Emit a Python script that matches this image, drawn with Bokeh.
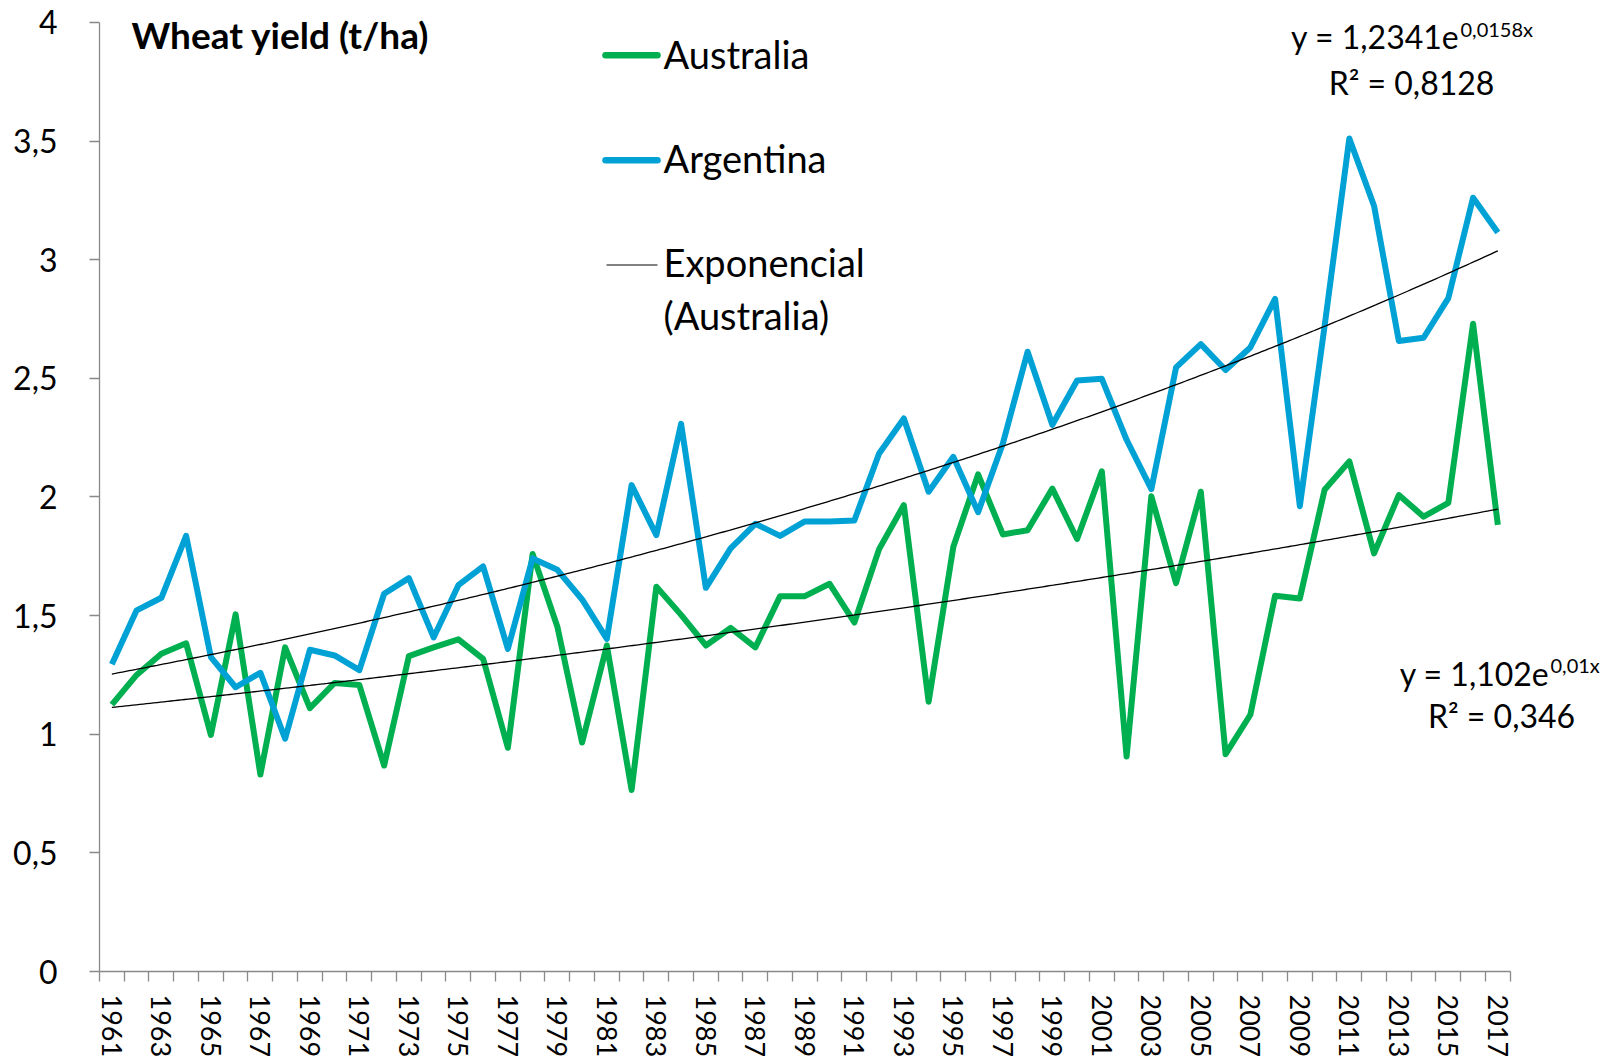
import numpy as np
from bokeh.plotting import figure
from bokeh.models import Range1d, FixedTicker, CustomJSTickFormatter, Label, ColumnDataSource
from bokeh.embed import file_html
from bokeh.resources import INLINE

# ---------------- data ----------------
years = list(range(1961, 2018))
australia = [1.125, 1.25, 1.339, 1.383, 0.997, 1.505, 0.83, 1.366, 1.11, 1.216,
             1.207, 0.868, 1.329, 1.366, 1.40, 1.318, 0.943, 1.76, 1.453, 0.965,
             1.374, 0.765, 1.622, 1.503, 1.374, 1.448, 1.366, 1.582, 1.582, 1.634,
             1.471, 1.78, 1.966, 1.137, 1.79, 2.095, 1.842, 1.86, 2.035, 1.823,
             2.108, 0.906, 2.003, 1.637, 2.022, 0.916, 1.082, 1.584, 1.572, 2.03,
             2.15, 1.762, 2.008, 1.917, 1.975, 2.73, 1.882]
argentina = [1.295, 1.522, 1.575, 1.836, 1.325, 1.198, 1.259, 0.981, 1.356, 1.332,
             1.270, 1.592, 1.658, 1.408, 1.628, 1.707, 1.360, 1.741, 1.693, 1.568,
             1.402, 2.050, 1.839, 2.308, 1.617, 1.783, 1.887, 1.836, 1.897, 1.897,
             1.901, 2.183, 2.331, 2.022, 2.169, 1.936, 2.225, 2.612, 2.304, 2.491,
             2.498, 2.241, 2.033, 2.546, 2.644, 2.535, 2.630, 2.835, 1.961, 2.72,
             3.511, 3.226, 2.657, 2.671, 2.838, 3.261, 3.115]
tick_years = years[::2]
y_ticks = [0, 0.5, 1, 1.5, 2, 2.5, 3, 3.5, 4]
# Excel exponential trend lines: y = a * exp(b * x), x = 1..57
trend_aus = (1.102, 0.01)
trend_arg = (1.2341, 0.0158)
eq_aus = ("y = 1,102e", "0,01x", "R² = 0,346")
eq_arg = ("y = 1,2341e", "0,0158x", "R² = 0,8128")
title = "Wheat yield (t/ha)"
legend_labels = ["Australia", "Argentina", "Exponencial", "(Australia)"]

GREEN = "#00B050"
BLUE = "#00A2D6"
AXIS = "#898989"
FONT = "Lato"

# ---------------- layout (canvas pixels) ----------------
W, H = 1604, 1060
FL = 99            # frame left  (x = 1960.5)
AX_R = 1509.7      # right end of the category axis (x = 2017.5)
Y0 = 975           # y = 0
Y4 = 22            # y = 4
CW = (AX_R - FL) / 57.0
PX_PER_UNIT = (Y0 - Y4) / 4.0
x_end = 1960.5 + (W - FL) / CW
y_end = Y0 / PX_PER_UNIT


def dx(cx):
    return 1960.5 + (cx - FL) / CW


def dy(cy):
    return (Y0 - cy) / PX_PER_UNIT


def mid(baseline, size):
    # Lato: box middle sits 0.387 em above the alphabetic baseline
    return dy(baseline - 0.387 * size)


p = figure(width=W, height=H, output_backend="svg", toolbar_location=None,
           x_range=Range1d(1960.5, x_end), y_range=Range1d(0, y_end),
           min_border_left=FL, min_border_right=0, min_border_top=0,
           min_border_bottom=H - Y0, background_fill_color="white",
           border_fill_color="white", outline_line_color=None)
p.xgrid.visible = False
p.ygrid.visible = False

# x axis
xa = p.xaxis[0]
xa.bounds = (1960.5, 2017.5)
xa.ticker = FixedTicker(ticks=tick_years,
                        minor_ticks=[y - 0.5 for y in years] + [years[-1] + 0.5])
xa.axis_line_color = AXIS
xa.axis_line_width = 1.3
xa.major_tick_line_color = None
xa.major_tick_out = 10
xa.major_tick_in = 0
xa.minor_tick_line_color = AXIS
xa.minor_tick_line_width = 1.3
xa.minor_tick_out = 10
xa.minor_tick_in = 0
xa.major_label_orientation = "vertical"
xa.major_label_standoff = 13
xa.major_label_text_font = FONT
xa.major_label_text_font_size = "27px"
xa.major_label_text_color = "black"

# y axis
ya = p.yaxis[0]
ya.bounds = (0, 4)
ya.ticker = FixedTicker(ticks=y_ticks)
ya.formatter = CustomJSTickFormatter(code="return tick.toString().replace('.', ',');")
ya.axis_line_color = AXIS
ya.axis_line_width = 1.3
ya.major_tick_line_color = AXIS
ya.major_tick_line_width = 1.3
ya.major_tick_out = 10
ya.major_tick_in = 0
ya.minor_tick_line_color = None
ya.major_label_standoff = 32
ya.major_label_text_font = FONT
ya.major_label_text_font_size = "32px"
ya.major_label_text_color = "black"

# ---------------- series ----------------
src = ColumnDataSource(dict(year=years, aus=australia, arg=argentina))
p.line("year", "aus", source=src, line_color=GREEN, line_width=6, line_join="round")
p.line("year", "arg", source=src, line_color=BLUE, line_width=6, line_join="round")

xs = np.linspace(1, len(years), 400)
tsrc = ColumnDataSource(dict(
    year=years[0] - 1 + xs,
    aus=trend_aus[0] * np.exp(trend_aus[1] * xs),
    arg=trend_arg[0] * np.exp(trend_arg[1] * xs)))
p.line("year", "aus", source=tsrc, line_color="black", line_width=1.3)
p.line("year", "arg", source=tsrc, line_color="black", line_width=1.3)

# ---------------- title ----------------
p.add_layout(Label(x=dx(131), y=mid(48.5, 37), text=title, text_font=FONT,
                   text_font_style="bold", text_font_size="37px",
                   text_baseline="middle", text_align="left", text_color="black"))

# ---------------- legend (manual, Excel style) ----------------
p.segment(x0=[dx(605), dx(605)], y0=[dy(55), dy(160.5)],
          x1=[dx(657), dx(657)], y1=[dy(55), dy(160.5)],
          line_color=[GREEN, BLUE], line_width=6.5, line_cap="round")
p.segment(x0=[dx(606)], y0=[dy(265.5)], x1=[dx(657)], y1=[dy(265.5)],
          line_color="#595959", line_width=1.5)
for txt, base in zip(legend_labels, [68.3, 172.7, 277.7, 330]):
    p.add_layout(Label(x=dx(663), y=mid(base, 38), text=txt, text_font=FONT,
                       text_font_size="38px", text_baseline="middle",
                       text_align="left", text_color="black"))


# ---------------- trend equations ----------------
def equation(eq, x_join, base_main, base_sup, r_center, base_r):
    p.add_layout(Label(x=dx(x_join), y=mid(base_main, 32), text=eq[0], text_font=FONT,
                       text_font_size="32px", text_baseline="middle",
                       text_align="right", text_color="black"))
    p.add_layout(Label(x=dx(x_join + 1), y=mid(base_sup, 20), text=eq[1], text_font=FONT,
                       text_font_size="20px", text_baseline="middle",
                       text_align="left", text_color="black"))
    p.add_layout(Label(x=dx(r_center), y=mid(base_r, 32), text=eq[2], text_font=FONT,
                       text_font_size="32px", text_baseline="middle",
                       text_align="center", text_color="black"))


equation(eq_arg, 1459, 48.3, 36.7, 1411, 95)
equation(eq_aus, 1549, 688.3, 675, 1501, 730)

open("out.html", "w").write(file_html(p, INLINE))
